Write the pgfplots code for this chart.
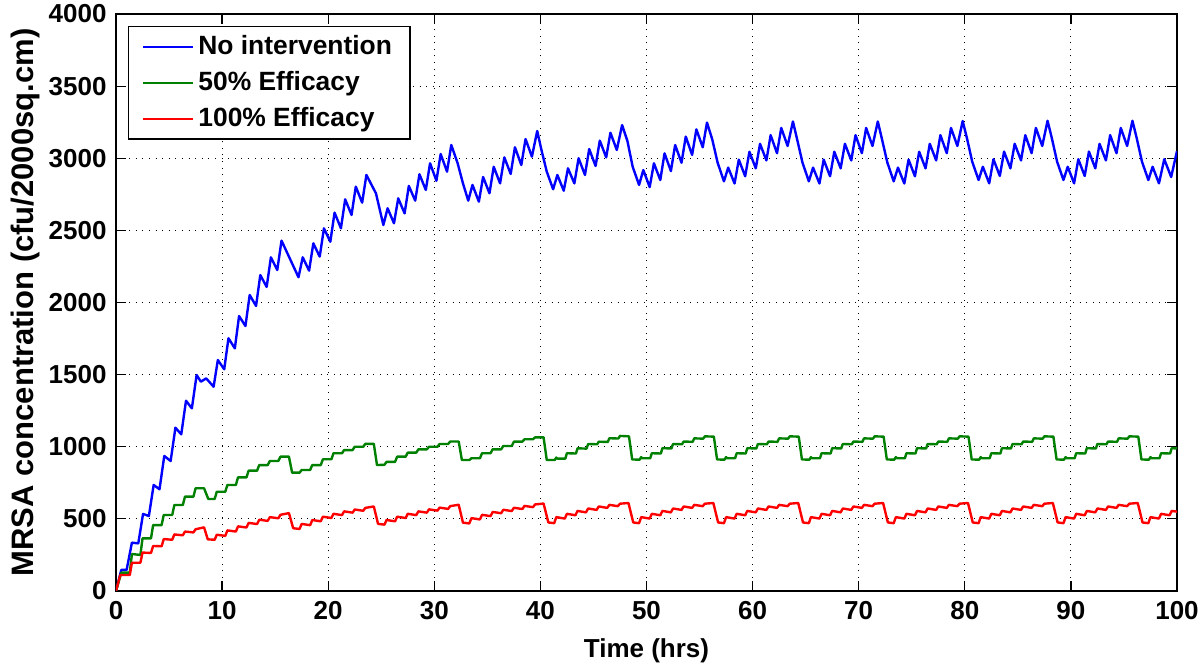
\documentclass[border=0pt]{standalone}
\usepackage{pgfplots}
\pgfplotsset{compat=1.18}
\usepackage{fontspec}
\setmainfont{Liberation Sans}
\definecolor{mblue}{rgb}{0,0,1}
\definecolor{mgreen}{rgb}{0,0.5,0}
\definecolor{mred}{rgb}{1,0,0}
\newcommand{\lblfont}{\fontsize{13}{15}\selectfont\bfseries}
\newcommand{\legfont}{\fontsize{13.2}{16}\selectfont\bfseries}
\newcommand{\ylblfont}{\fontsize{15.5}{18}\selectfont\bfseries}
\begin{document}
\begin{tikzpicture}
\begin{axis}[
  scale only axis,
  width=530.5pt, height=288.5pt,
  xmin=0, xmax=100, ymin=0, ymax=4000,
  xtick={0,10,...,100}, ytick={0,500,...,4000},
  scaled y ticks=false,
  /pgf/number format/1000 sep={},
  /pgf/number format/assume math mode=true,
  tick label style={font=\lblfont},
  xticklabel style={yshift=-1.7pt},
  yticklabel style={xshift=-1.2pt},
  major tick length=5pt,
  tick style={line width=0.6pt, black},
  axis line style={line width=0.75pt},
  grid=major,
  major grid style={line width=0.5pt, black, dash pattern=on 0.5pt off 2.8pt},
  xlabel={Time (hrs)},
  ylabel={MRSA concentration (cfu/2000sq.cm)},
  xlabel style={font=\lblfont, at={(axis description cs:0.5,-0.1161)}, anchor=base},
  ylabel style={font=\ylblfont, at={(axis description cs:-0.0780,0.5)}, anchor=base},
  legend cell align=left,
  legend image code/.code={\draw[#1, line width=0.9pt] (0pt,0pt) -- (25pt,0pt);},
  legend style={at={(0,1)}, anchor=north west, xshift=6pt, yshift=-6pt,
    font=\legfont, draw=black, line width=0.6pt, inner xsep=7pt, inner ysep=2.5pt,
    nodes={inner sep=2pt}, row sep=3pt,
    /tikz/every even column/.append style={column sep=7pt}},
  every axis plot/.append style={line width=1.2pt, line join=round},
]
% No intervention
\addplot[color=mblue] coordinates {
(0,0) (0.5,146) (1.0,146) (1.5,335) (2.1,330) (2.55,534) (3.1,520) (3.55,735) (4.1,705)
(4.55,936) (5.15,901) (5.6,1132) (6.15,1086) (6.6,1319) (7.15,1266) (7.6,1497)
(8.0,1451) (8.5,1474) (9.2,1416) (9.6,1601) (10.2,1537) (10.6,1752) (11.2,1682)
(11.6,1906) (12.2,1837) (12.6,2052) (13.2,1976) (13.6,2190) (14.2,2108) (14.6,2313)
(15.2,2225) (15.6,2429) (16.3,2318) (17.2,2175) (17.6,2313) (18.2,2221) (18.6,2410)
(19.2,2318) (19.6,2514) (20.2,2421) (20.6,2623) (21.2,2514) (21.6,2715) (22.2,2607)
(22.6,2803) (23.2,2692) (23.6,2884) (24.5,2757) (25.2,2537) (25.6,2653) (26.2,2549)
(26.6,2722) (27.2,2618) (27.6,2808) (28.2,2706) (28.6,2889) (29.2,2780) (29.6,2965)
(30.2,2844) (30.6,3029) (31.2,2907) (31.6,3092) (32.2,2965) (32.7,2826) (33.2,2706)
(33.6,2815) (34.2,2699) (34.6,2870) (35.2,2757) (35.6,2941) (36.2,2826) (36.6,3006)
(37.2,2891) (37.6,3076) (38.2,2953) (38.6,3133) (39.2,3011) (39.7,3189)
(40.1,3057) (40.6,2907) (41.2,2785) (41.6,2884) (42.2,2775) (42.6,2930) (43.2,2826)
(43.6,3000) (44.2,2884) (44.6,3064) (45.2,2946) (45.6,3122) (46.2,3006) (46.6,3177)
(47.2,3057) (47.7,3230)
(48.2,3120) (48.7,2940) (49.3,2815) (49.7,2918) (50.3,2800) (50.7,2965) (51.3,2849)
(51.7,3034) (52.3,2911) (52.7,3092) (53.3,2969) (53.7,3150) (54.3,3023) (54.7,3200)
(55.3,3076) (55.7,3247)
(56.2,3130) (56.7,2970) (57.3,2840) (57.7,2935) (58.3,2825) (58.7,2990) (59.3,2875)
(59.7,3045) (60.3,2930) (60.7,3100) (61.3,2985) (61.7,3160) (62.3,3035) (62.7,3210)
(63.3,3085) (63.8,3255)
(64.2,3130) (64.7,2970) (65.3,2840) (65.7,2935) (66.3,2825) (66.7,2990) (67.3,2875)
(67.7,3045) (68.3,2930) (68.7,3100) (69.3,2985) (69.7,3160) (70.3,3035) (70.7,3210)
(71.3,3085) (71.8,3255)
(72.2,3130) (72.7,2970) (73.3,2840) (73.7,2935) (74.3,2825) (74.7,2990) (75.3,2875)
(75.7,3045) (76.3,2930) (76.7,3100) (77.3,2985) (77.7,3160) (78.3,3035) (78.7,3210)
(79.3,3085) (79.8,3258)
(80.2,3140) (80.7,2976) (81.3,2849) (81.7,2941) (82.3,2826) (82.7,2993) (83.3,2877)
(83.7,3046) (84.3,2930) (84.7,3100) (85.3,2985) (85.7,3160) (86.3,3035) (86.7,3210)
(87.3,3085) (87.8,3260)
(88.2,3140) (88.7,2976) (89.3,2849) (89.7,2941) (90.3,2826) (90.7,2993) (91.3,2877)
(91.7,3046) (92.3,2930) (92.7,3100) (93.3,2985) (93.7,3160) (94.3,3035) (94.7,3210)
(95.3,3085) (95.8,3260)
(96.2,3140) (96.7,2976) (97.3,2849) (97.7,2941) (98.3,2826) (98.8,2993) (99.45,2870)
(100,3050)
};
\addlegendentry{No intervention}
% 50% efficacy
\addplot[color=mgreen] coordinates {
(0,0) (0.5,127) (1.3,127) (1.5,256) (2.3,250) (2.5,365) (3.3,365) (3.5,457) (4.3,457)
(4.5,527) (5.3,527) (5.5,596) (6.3,596) (6.5,654) (7.3,654) (7.5,712) (8.3,712)
(8.7,638) (9.3,638) (9.5,688) (10.3,688) (10.5,735) (11.3,735) (11.5,788) (12.3,788)
(12.5,834) (13.3,834) (13.5,873) (14.3,873) (14.5,901) (15.3,901) (15.5,931) (16.3,931)
(16.6,820) (17.3,820) (17.5,839) (18.3,839) (18.5,873) (19.3,873) (19.5,913) (20.3,913)
(20.5,955) (21.3,955) (21.5,977) (22.3,977) (22.5,1000) (23.3,1000) (23.5,1020) (24.3,1020)
(24.6,873) (25.3,875) (25.5,895) (26.3,895) (26.5,931) (27.3,931) (27.5,959) (28.3,959)
(28.5,982) (29.3,982) (29.5,1000) (30.3,1000) (30.5,1019) (31.3,1019) (31.5,1036) (32.3,1036)
(32.6,908) (33.3,908) (33.5,920) (34.3,920) (34.5,955) (35.3,955) (35.5,982) (36.3,982)
(36.5,1005) (37.3,1005) (37.5,1035) (38.3,1035) (38.5,1052) (39.3,1052) (39.5,1065) (40.3,1065)
(40.6,908) (41.35,908) (41.5,925) (41.6,918) (42.35,918) (42.5,955) (43.35,953) (43.5,989)
(44.35,987) (44.5,1019) (45.35,1017) (45.5,1035) (46.35,1033) (46.5,1059) (47.35,1057)
(47.5,1075) (48.35,1072)
(48.65,912) (49.35,910) (49.5,928) (49.6,920) (50.35,920) (50.5,955) (51.35,953) (51.5,990)
(52.35,988) (52.5,1019) (53.35,1017) (53.5,1036) (54.35,1034) (54.5,1058) (55.35,1056)
(55.5,1072) (56.35,1070)
(56.65,912) (57.35,910) (57.5,928) (57.6,920) (58.35,920) (58.5,955) (59.35,953) (59.5,990)
(60.35,988) (60.5,1019) (61.35,1017) (61.5,1036) (62.35,1034) (62.5,1058) (63.35,1056)
(63.5,1072) (64.35,1070)
(64.65,912) (65.35,910) (65.5,928) (65.6,920) (66.35,920) (66.5,955) (67.35,953) (67.5,990)
(68.35,988) (68.5,1019) (69.35,1017) (69.5,1036) (70.35,1034) (70.5,1058) (71.35,1056)
(71.5,1072) (72.35,1070)
(72.65,912) (73.35,910) (73.5,928) (73.6,920) (74.35,920) (74.5,955) (75.35,953) (75.5,990)
(76.35,988) (76.5,1019) (77.35,1017) (77.5,1036) (78.35,1034) (78.5,1058) (79.35,1056)
(79.5,1072) (80.35,1070)
(80.65,912) (81.35,910) (81.5,928) (81.6,920) (82.35,920) (82.5,955) (83.35,953) (83.5,990)
(84.35,988) (84.5,1019) (85.35,1017) (85.5,1036) (86.35,1034) (86.5,1058) (87.35,1056)
(87.5,1072) (88.35,1070)
(88.65,912) (89.35,910) (89.5,928) (89.6,920) (90.35,920) (90.5,955) (91.35,953) (91.5,990)
(92.35,988) (92.5,1019) (93.35,1017) (93.5,1036) (94.35,1034) (94.5,1058) (95.35,1056)
(95.5,1072) (96.35,1070)
(96.65,912) (97.35,910) (97.5,928) (97.6,920) (98.35,920) (98.5,955) (99.35,953) (99.5,990)
(100,988)
};
\addlegendentry{50\% Efficacy}
% 100% efficacy
\addplot[color=mred] coordinates {
(0,0) (0.4,111) (1.3,111) (1.5,196) (2.3,196) (2.5,266) (3.3,264) (3.5,312) (4.3,310)
(4.5,360) (5.3,355) (5.5,392) (6.3,386) (6.5,412) (7.3,406) (7.5,428) (8.3,441)
(8.65,358) (9.3,355) (9.5,390) (10.3,382) (10.5,420) (11.3,412) (11.5,448) (12.3,440)
(12.5,472) (13.3,464) (13.5,494) (14.3,486) (14.5,512) (15.3,504) (15.5,528) (16.3,540)
(16.7,435) (17.3,430) (17.5,465) (18.3,456) (18.5,492) (19.3,483) (19.5,515) (20.3,506)
(20.5,535) (21.3,526) (21.5,552) (22.3,543) (22.5,565) (23.3,556) (23.5,576) (24.3,586)
(24.7,465) (25.3,460) (25.5,492) (26.3,483) (26.5,515) (27.3,506) (27.5,535) (28.3,526)
(28.5,552) (29.3,543) (29.5,566) (30.3,557) (30.5,578) (31.3,569) (31.5,588) (32.3,598)
(32.7,474) (33.3,468) (33.5,505) (34.3,496) (34.5,528) (35.3,519) (35.5,548) (36.3,539)
(36.5,563) (37.3,554) (37.5,577) (38.3,568) (38.5,590) (39.3,581) (39.5,600) (40.3,606)
(40.75,475) (41.3,470) (41.5,512) (42.3,502) (42.5,535) (43.3,525) (43.5,555) (44.3,545)
(44.5,572) (45.3,562) (45.5,586) (46.3,576) (46.5,597) (47.3,588) (47.5,605) (48.3,610)
(48.75,475) (49.3,470) (49.5,512) (50.3,502) (50.5,535) (51.3,525) (51.5,555) (52.3,545)
(52.5,572) (53.3,562) (53.5,586) (54.3,576) (54.5,597) (55.3,588) (55.5,605) (56.3,610)
(56.75,475) (57.3,470) (57.5,512) (58.3,502) (58.5,535) (59.3,525) (59.5,555) (60.3,545)
(60.5,572) (61.3,562) (61.5,586) (62.3,576) (62.5,597) (63.3,588) (63.5,605) (64.3,610)
(64.75,475) (65.3,470) (65.5,512) (66.3,502) (66.5,535) (67.3,525) (67.5,555) (68.3,545)
(68.5,572) (69.3,562) (69.5,586) (70.3,576) (70.5,597) (71.3,588) (71.5,605) (72.3,610)
(72.75,475) (73.3,470) (73.5,512) (74.3,502) (74.5,535) (75.3,525) (75.5,555) (76.3,545)
(76.5,572) (77.3,562) (77.5,586) (78.3,576) (78.5,597) (79.3,588) (79.5,605) (80.3,610)
(80.75,475) (81.3,470) (81.5,512) (82.3,502) (82.5,535) (83.3,525) (83.5,555) (84.3,545)
(84.5,572) (85.3,562) (85.5,586) (86.3,576) (86.5,597) (87.3,588) (87.5,605) (88.3,610)
(88.75,475) (89.3,470) (89.5,512) (90.3,502) (90.5,535) (91.3,525) (91.5,555) (92.3,545)
(92.5,572) (93.3,562) (93.5,586) (94.3,576) (94.5,597) (95.3,588) (95.5,605) (96.3,610)
(96.75,475) (97.3,470) (97.5,512) (98.3,502) (98.5,535) (99.3,525) (99.5,555) (100,550)
};
\addlegendentry{100\% Efficacy}
\end{axis}
\pgfresetboundingbox
\path ([shift={(-58pt,-37pt)}]current axis.south west) rectangle ([shift={(11.5pt,7pt)}]current axis.north east);
\end{tikzpicture}
\end{document}
